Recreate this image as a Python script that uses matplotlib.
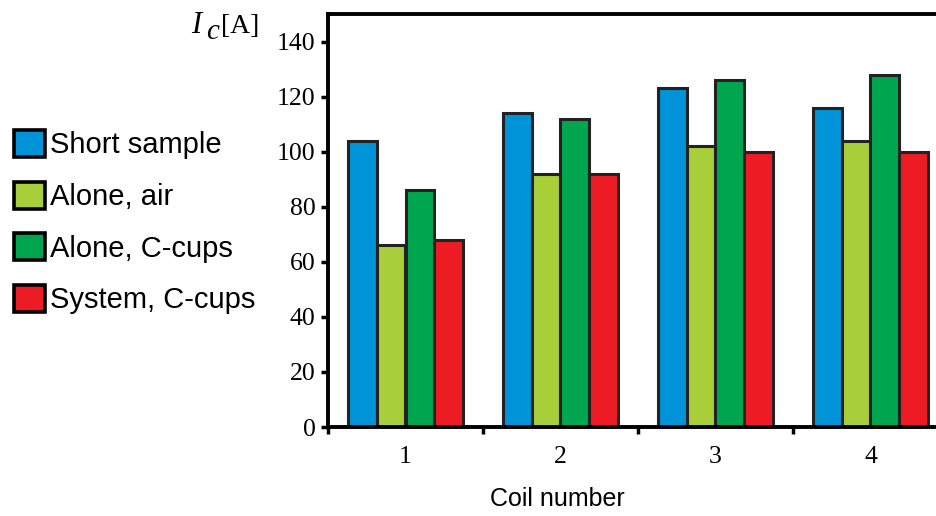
import matplotlib
matplotlib.use("Agg")
import matplotlib.pyplot as plt
import numpy as np

coils = ["1", "2", "3", "4"]
series = ["Short sample", "Alone, air", "Alone, C-cups", "System, C-cups"]
short_sample = [104, 114, 123, 116]
alone_air = [66, 92, 102, 104]
alone_ccups = [86, 112, 126, 128]
system_ccups = [68, 92, 100, 100]
colors = ["#0093D8", "#A8CE3A", "#00A54F", "#ED1C24"]

values = [short_sample, alone_air, alone_ccups, system_ccups]

W, H = 937, 516
fig = plt.figure(figsize=(W / 100, H / 100), dpi=100)
ax = fig.add_axes([328 / W, 1 - 427 / H, (W - 328) / W, (427 - 14) / H])

x = np.arange(1, len(coils) + 1)
bw = 0.186
handles = []
for i, (vals, col, lab) in enumerate(zip(values, colors, series)):
    b = ax.bar(x + (i - 1.5) * bw, vals, width=bw, color=col,
               edgecolor="#222222", linewidth=2.2, label=lab, zorder=2)
    handles.append(b)

ax.set_ylim(0, 150)
ax.set_xlim(0.5, 0.5 + (W - 328) / 155.0)
ax.set_yticks(np.arange(0, 141, 20))

# ticks at group boundaries, labels at group centres
ax.set_xticks(np.arange(0.5, len(coils), 1.0))
ax.set_xticklabels([])
ax.set_xticks(x, minor=True)
ax.set_xticklabels(coils, minor=True)
ax.tick_params(axis="x", which="minor", length=0, pad=14)
ax.tick_params(axis="x", which="major", direction="out", length=5, width=2.5)
ax.tick_params(axis="y", direction="out", length=5, width=2.5, pad=4)

serif = ["Liberation Serif", "DejaVu Serif"]
sans = ["Liberation Sans", "DejaVu Sans"]
for lbl in ax.get_yticklabels() + ax.get_xticklabels(minor=True):
    lbl.set_fontfamily(serif)
    lbl.set_fontsize(18.5)

for s in ["left", "bottom", "top"]:
    ax.spines[s].set_linewidth(2.8)
    ax.spines[s].set_color("black")
ax.spines["right"].set_visible(False)

# axis quantity: italic I with italic subscript c, then the unit
fig.text(191 / W, 1 - 33 / H, "I", fontsize=22, family=serif, style="italic",
         va="baseline", ha="left")
fig.text(206 / W, 1 - 39 / H, "c", fontsize=21, family=serif, style="italic",
         va="baseline", ha="left")
fig.text(221 / W, 1 - 33 / H, "[A]", fontsize=20, family=serif,
         va="baseline", ha="left")

fig.text(557 / W, 1 - 499 / H, "Coil number", fontsize=18,
         family=sans, ha="center", va="center")

leg = fig.legend(handles=handles, labels=series, loc="upper left",
                 bbox_to_anchor=(14 / W, 1 - 130 / H), frameon=False,
                 prop={"family": sans, "size": 21},
                 handlelength=1.05, handleheight=1.05, handletextpad=0.2,
                 labelspacing=0.76, borderaxespad=0, borderpad=0)
for p in leg.get_patches():
    p.set_linewidth(2.6)
    p.set_edgecolor("black")

fig.savefig("out.png", dpi=100)
